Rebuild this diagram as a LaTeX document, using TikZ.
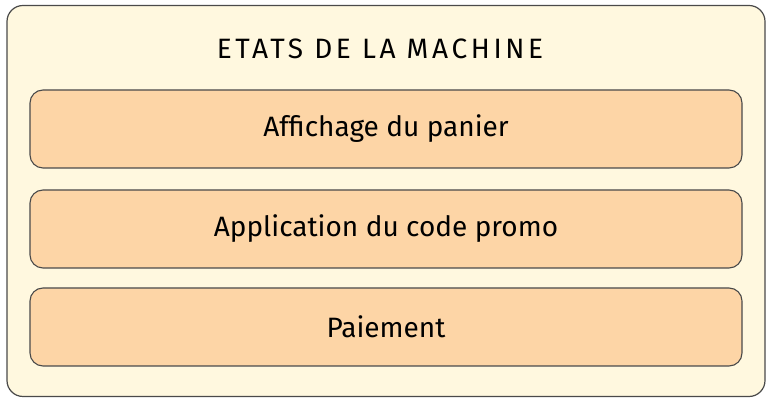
\documentclass[tikz,border=0pt]{standalone}
\usepackage{fontspec}
\setmainfont{Fira Sans}
\usepackage{tikz}
\usetikzlibrary{positioning}

\definecolor{creme}{HTML}{FFF8DF}
\definecolor{peche}{HTML}{FDD5A6}
\definecolor{trait}{HTML}{4A4A4A}

\begin{document}
\begin{tikzpicture}[x=1pt, y=1pt]
  \tikzstyle{machine}=[rounded corners=16pt, draw=trait, line width=1.2pt, fill=creme,
  minimum width=758pt, minimum height=391pt]
  \tikzstyle{etat}=[rounded corners=13pt, draw=trait, line width=1.1pt, fill=peche,
  minimum width=712pt, minimum height=78pt, font=\fontsize{28}{32}\selectfont]

  \useasboundingbox (0, 0) rectangle (770, 403);

  \node (machine) at (386, 202) [machine] {};
  \node (titre) at (380, 354) [font=\fontsize{28}{32}\selectfont\addfontfeature{LetterSpace=13}] {ETATS DE LA MACHINE};

  \node (panier) at (386, 274) [etat] {Affichage du panier};
  \node (promo) at (386, 174) [etat] {Application du code promo};
  \node (paiement) at (386, 76) [etat] {Paiement};
\end{tikzpicture}
\end{document}
